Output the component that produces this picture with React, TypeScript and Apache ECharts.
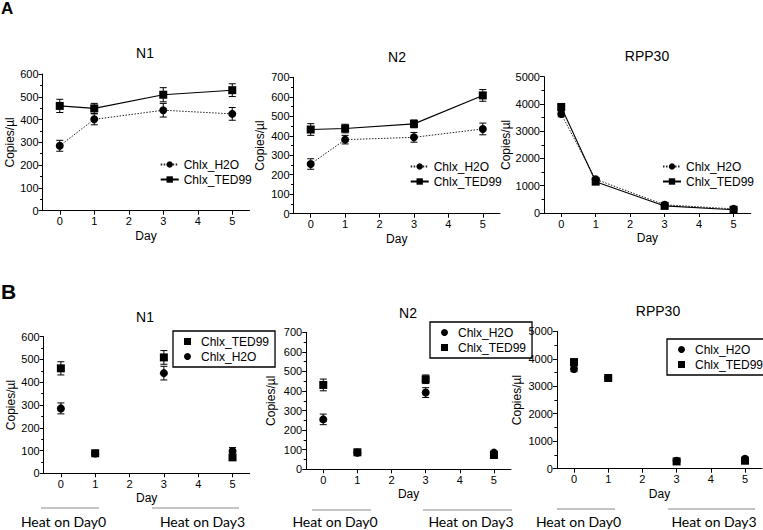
import React, { useEffect, useRef } from "react";
import * as echarts from "echarts";

// ---------- data ----------
const days = [0, 1, 3, 5];
const xTicks = [0, 1, 2, 3, 4, 5];

// Panel A (time course)
const n1A_h2o = [285, 401, 441, 425];
const n1A_h2oErr = [24, 24, 30, 28];
const n1A_ted = [460, 449, 509, 529];
const n1A_tedErr = [29, 22, 31, 28];

const n2A_h2o = [255, 380, 392, 435];
const n2A_h2oErr = [27, 22, 25, 30];
const n2A_ted = [432, 437, 461, 607];
const n2A_tedErr = [30, 22, 20, 30];

const rppA_h2o = [3630, 1235, 300, 150];
const rppA_h2oErr = [100, 60, 40, 30];
const rppA_ted = [3890, 1150, 260, 120];
const rppA_tedErr = [100, 80, 40, 30];

// Panel B (heat treatment)
const n1B_h2o = [285, 87, 440, 98];
const n1B_h2oErr = [24, 5, 30, 15];
const n1B_ted = [461, 88, 509, 70];
const n1B_tedErr = [29, 8, 30, 12];

const n2B_h2o = [255, 85, 392, 85];
const n2B_h2oErr = [27, 5, 25, 8];
const n2B_ted = [431, 87, 460, 73];
const n2B_tedErr = [30, 8, 22, 8];

const rppB_h2o = [3630, 3300, 290, 365];
const rppB_h2oErr = [100, 50, 40, 40];
const rppB_ted = [3880, 3300, 265, 290];
const rppB_tedErr = [100, 60, 40, 40];

const titles = ["N1", "N2", "RPP30", "N1", "N2", "RPP30"];
const yMaxes = [600, 700, 5000, 600, 700, 5000];
const yIntervals = [100, 100, 1000, 100, 100, 1000];
const heatLabels = ["Heat on Day0", "Heat on Day3"];

const H2O = "Chlx_H2O";
const TED = "Chlx_TED99";

// ---------- layout ----------
const grids = [
  { left: 42.5, top: 74, width: 207, height: 136.7 },
  { left: 293.5, top: 77.3, width: 206.5, height: 136.4 },
  { left: 544, top: 76.7, width: 206.8, height: 136.3 },
  { left: 43.7, top: 336.7, width: 206, height: 136.6 },
  { left: 306.2, top: 332.3, width: 204.8, height: 137 },
  { left: 556.9, top: 331.3, width: 205.2, height: 137.4 },
];
const nameGaps = [26, 28, 31, 27, 29, 34];
const titlePos = [
  [145, 46],
  [397, 50],
  [647, 49],
  [145, 310],
  [408, 306],
  [658, 304],
];

const FONT = "'Liberation Sans', Arial, sans-serif";

function errData(v: number[], e: number[]) {
  return days.map((d, i) => [d, v[i] - e[i], v[i] + e[i]]);
}
function ptData(v: number[]) {
  return days.map((d, i) => [d, v[i]]);
}

function errSeries(idx: number, v: number[], e: number[]) {
  return {
    type: "custom",
    xAxisIndex: idx,
    yAxisIndex: idx,
    silent: true,
    z: 1,
    encode: { x: 0, y: [1, 2] },
    data: errData(v, e),
    renderItem: (_p: any, api: any) => {
      const x = api.value(0);
      const top = api.coord([x, api.value(2)]);
      const bot = api.coord([x, api.value(1)]);
      const h = 3.5;
      const st = { stroke: "#000", lineWidth: 1 };
      return {
        type: "group",
        children: [
          { type: "line", shape: { x1: top[0], y1: top[1], x2: bot[0], y2: bot[1] }, style: st },
          { type: "line", shape: { x1: top[0] - h, y1: top[1], x2: top[0] + h, y2: top[1] }, style: st },
          { type: "line", shape: { x1: bot[0] - h, y1: bot[1], x2: bot[0] + h, y2: bot[1] }, style: st },
        ],
      };
    },
  };
}

function lineSeries(idx: number, name: string, v: number[], dotted: boolean) {
  return {
    type: "line",
    name,
    xAxisIndex: idx,
    yAxisIndex: idx,
    data: ptData(v),
    symbol: dotted ? "circle" : "rect",
    symbolSize: 8,
    showSymbol: true,
    z: 3,
    itemStyle: { color: "#000", opacity: 1 },
    lineStyle: dotted
      ? { color: "#222", width: 1, type: [1.5, 1.5] }
      : { color: "#000", width: 1.1, type: "solid" },
  };
}

function scatterSeries(idx: number, name: string, v: number[], circle: boolean) {
  return {
    type: "scatter",
    name: "B:" + name,
    xAxisIndex: idx,
    yAxisIndex: idx,
    data: ptData(v),
    symbol: circle ? "circle" : "rect",
    symbolSize: 8,
    z: 3,
    itemStyle: { color: "#000", opacity: 1 },
  };
}

export default function App() {
  const ref = useRef<HTMLDivElement>(null);

  useEffect(() => {
    if (!ref.current) return;
    const chart = echarts.init(ref.current, undefined, { renderer: "svg" });

    const xAxes = grids.map((_, i) => ({
      type: "value",
      gridIndex: i,
      min: -0.5,
      max: 5.5,
      name: "Day",
      nameLocation: "middle",
      nameGap: 19,
      nameTextStyle: { fontFamily: FONT, fontSize: 12, color: "#000" },
      axisLine: { show: true, onZero: false, lineStyle: { color: "#000", width: 1 } },
      axisTick: { show: true, length: 4, customValues: xTicks, lineStyle: { color: "#000" } },
      axisLabel: { customValues: xTicks, fontFamily: FONT, fontSize: 11, color: "#000", margin: 5 },
      splitLine: { show: false },
    }));

    const yAxes = grids.map((_, i) => ({
      type: "value",
      gridIndex: i,
      min: 0,
      max: yMaxes[i],
      interval: yIntervals[i],
      name: "Copies/µl",
      nameLocation: "middle",
      nameGap: nameGaps[i],
      nameTextStyle: { fontFamily: FONT, fontSize: 12, color: "#000" },
      axisLine: { show: true, onZero: false, lineStyle: { color: "#000", width: 1 } },
      axisTick: { show: true, length: 4, lineStyle: { color: "#000" } },
      minorTick: { show: true, splitNumber: 2, length: 2.5, lineStyle: { color: "#000" } },
      axisLabel: {
        fontFamily: FONT,
        fontSize: 11,
        color: "#000",
        margin: 4,
        formatter: (v: number) => String(v),
      },
      splitLine: { show: false },
    }));

    const series: any[] = [
      // A
      errSeries(0, n1A_h2o, n1A_h2oErr),
      errSeries(0, n1A_ted, n1A_tedErr),
      lineSeries(0, H2O, n1A_h2o, true),
      lineSeries(0, TED, n1A_ted, false),
      errSeries(1, n2A_h2o, n2A_h2oErr),
      errSeries(1, n2A_ted, n2A_tedErr),
      lineSeries(1, H2O, n2A_h2o, true),
      lineSeries(1, TED, n2A_ted, false),
      errSeries(2, rppA_h2o, rppA_h2oErr),
      errSeries(2, rppA_ted, rppA_tedErr),
      lineSeries(2, H2O, rppA_h2o, true),
      lineSeries(2, TED, rppA_ted, false),
      // B
      errSeries(3, n1B_h2o, n1B_h2oErr),
      errSeries(3, n1B_ted, n1B_tedErr),
      scatterSeries(3, H2O, n1B_h2o, true),
      scatterSeries(3, TED, n1B_ted, false),
      errSeries(4, n2B_h2o, n2B_h2oErr),
      errSeries(4, n2B_ted, n2B_tedErr),
      scatterSeries(4, H2O, n2B_h2o, true),
      scatterSeries(4, TED, n2B_ted, false),
      errSeries(5, rppB_h2o, rppB_h2oErr),
      errSeries(5, rppB_ted, rppB_tedErr),
      scatterSeries(5, H2O, rppB_h2o, true),
      scatterSeries(5, TED, rppB_ted, false),
    ];

    const legendText = { fontFamily: FONT, fontSize: 12, color: "#000", lineHeight: 13 };
    const legA = (left: number, top: number) => ({
      left,
      top,
      orient: "vertical",
      data: [H2O, TED],
      itemWidth: 18,
      itemHeight: 8,
      itemGap: 2,
      padding: 0,
      selectedMode: false,
      textStyle: legendText,
    });
    const legB = (left: number, top: number, order: string[]) => ({
      left,
      top,
      orient: "vertical",
      data: order.map((n) => "B:" + n),
      formatter: (n: string) => n.replace("B:", ""),
      itemWidth: 7,
      itemHeight: 7,
      itemGap: 2,
      padding: [4, 6, 4, 11],
      borderColor: "#000",
      borderWidth: 1.3,
      selectedMode: false,
      textStyle: { ...legendText, padding: [0, 0, 0, 5] },
    });

    const graphics: any[] = [
      { type: "text", x: 1, y: 0, style: { text: "A", font: "bold 17px " + FONT, fill: "#000" } },
      { type: "text", x: 1, y: 281, style: { text: "B", font: "bold 21px " + FONT, fill: "#000" } },
    ];
    const heat = [
      // [lineX1, lineX2, textCenter, lineY] per label
      [[41, 99, 63.5, 508], [152, 239, 202.5, 508]],
      [[312, 371, 335, 510], [423, 512, 471, 510]],
      [[557, 615, 578.5, 509], [668, 755, 714, 509]],
    ];
    heat.forEach((pair) => {
      pair.forEach((h, j) => {
        graphics.push({
          type: "line",
          shape: { x1: h[0], y1: h[3], x2: h[1], y2: h[3] },
          style: { stroke: "#8a8a8a", lineWidth: 1.2 },
        });
        graphics.push({
          type: "text",
          x: h[2],
          y: 514,
          style: {
            text: heatLabels[j],
            font: "14px Lato, 'Open Sans', sans-serif",
            fill: "#000",
            align: "center",
            verticalAlign: "top",
          },
        });
      });
    });

    chart.setOption({
      animation: false,
      backgroundColor: "#fff",
      title: titles.map((t, i) => ({
        text: t,
        left: titlePos[i][0],
        top: titlePos[i][1],
        textAlign: "center",
        padding: 0,
        textStyle: { fontFamily: FONT, fontSize: 14, fontWeight: "normal", color: "#000" },
      })),
      grid: grids.map((g) => ({ ...g, containLabel: false })),
      xAxis: xAxes,
      yAxis: yAxes,
      legend: [
        legA(159.7, 158),
        legA(409.7, 160),
        legA(662, 160),
        legB(173, 331, [TED, H2O]),
        legB(430, 322, [H2O, TED]),
        legB(667, 339, [H2O, TED]),
      ],
      series,
      graphic: graphics,
    });

    return () => chart.dispose();
  }, []);

  return (
    <div
      ref={ref}
      style={{ position: "fixed", left: 0, top: 0, width: 763, height: 530, background: "#fff" }}
    />
  );
}
